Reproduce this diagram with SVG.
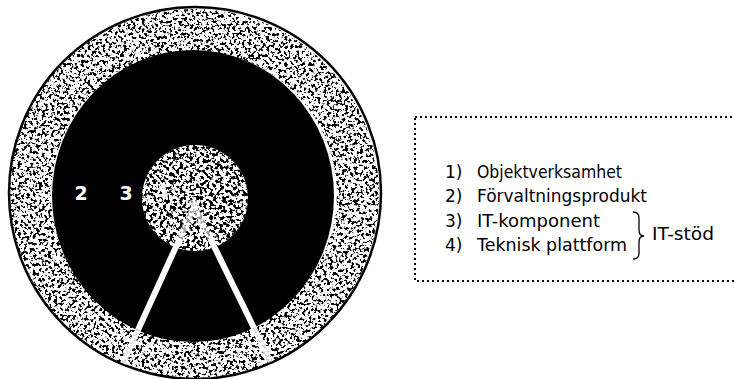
<svg xmlns="http://www.w3.org/2000/svg" width="734" height="379" viewBox="0 0 734 379">
  <style>
    .legend { font-family: "DejaVu Sans", "Liberation Sans", sans-serif; font-size: 17px; fill: #000; }
    .num { font-family: "DejaVu Sans", "Liberation Sans", sans-serif; font-size: 19px; font-weight: bold; fill: #fff; }
    .bar { stroke: #fff; stroke-width: 6; stroke-linecap: butt; fill: none; }
  </style>
  <defs>
    <filter id="speckRing" filterUnits="userSpaceOnUse" x="0" y="0" width="734" height="379">
      <feTurbulence type="fractalNoise" baseFrequency="0.33" numOctaves="3" seed="7" result="n"/>
      <feColorMatrix in="n" type="matrix" values="0 0 0 0 0  0 0 0 0 0  0 0 0 0 0  16 0 0 0 -8.5" result="m"/>
      <feComposite in="m" in2="SourceGraphic" operator="in"/>
    </filter>
    <filter id="speckCore" filterUnits="userSpaceOnUse" x="0" y="0" width="734" height="379">
      <feTurbulence type="fractalNoise" baseFrequency="0.3" numOctaves="3" seed="21" result="n"/>
      <feColorMatrix in="n" type="matrix" values="0 0 0 0 0  0 0 0 0 0  0 0 0 0 0  16 0 0 0 -8.0" result="m"/>
      <feComposite in="m" in2="SourceGraphic" operator="in"/>
    </filter>
    <clipPath id="outerClip"><circle cx="195" cy="193" r="185"/></clipPath>
  </defs>

  <rect width="734" height="379" fill="#fff"/>

  <g id="ring1">
    <circle cx="195" cy="193" r="186" fill="#fff" stroke="#000" stroke-width="2.5"/>
    <circle cx="194" cy="194" r="164" fill="none" stroke="#000" stroke-width="42" filter="url(#speckRing)"/>
  </g>

  <g id="ring2">
    <ellipse cx="193" cy="196" rx="141" ry="146" fill="#000"/>
    <text class="num" x="81" y="200" text-anchor="middle">2</text>
  </g>

  <g id="ring3">
    <text class="num" x="126" y="200" text-anchor="middle">3</text>
  </g>

  <g id="core">
    <circle cx="195" cy="198" r="53" fill="#fff"/>
    <circle cx="195" cy="198" r="53" fill="#000" filter="url(#speckCore)"/>
    <text class="num" x="162" y="199" text-anchor="middle" opacity="0.9">4</text>
  </g>

  <g id="connectors">
    <line class="bar" x1="197" y1="200" x2="180" y2="238" opacity="0.6"/>
    <line class="bar" x1="191" y1="200" x2="210" y2="238" opacity="0.6"/>
    <line class="bar" x1="180" y1="238" x2="138" y2="330"/>
    <line class="bar" x1="210" y1="238" x2="254" y2="328"/>
    <g clip-path="url(#outerClip)">
      <line class="bar" x1="138" y1="330" x2="116" y2="379" opacity="0.85"/>
      <line class="bar" x1="254" y1="328" x2="279" y2="379" opacity="0.85"/>
    </g>
  </g>

  <g id="legend">
    <rect x="415" y="117" width="340" height="164" fill="none" stroke="#000" stroke-width="2" stroke-dasharray="2 3"/>
    <text class="legend" x="445" y="178">1)</text>
    <text class="legend" x="477" y="178" textLength="145" lengthAdjust="spacingAndGlyphs">Objektverksamhet</text>
    <text class="legend" x="445" y="202">2)</text>
    <text class="legend" x="477" y="202" textLength="170" lengthAdjust="spacingAndGlyphs">Förvaltningsprodukt</text>
    <text class="legend" x="445" y="227">3)</text>
    <text class="legend" x="477" y="227" textLength="123" lengthAdjust="spacingAndGlyphs">IT-komponent</text>
    <text class="legend" x="445" y="251">4)</text>
    <text class="legend" x="477" y="251" textLength="150" lengthAdjust="spacingAndGlyphs">Teknisk plattform</text>
    <path d="M633,212 Q639,212 639,218 L639,230 Q639,236 644,236 Q639,236 639,242 L639,253 Q639,259 633,259" fill="none" stroke="#000" stroke-width="1.3"/>
    <text class="legend" x="652" y="240" textLength="62" lengthAdjust="spacingAndGlyphs">IT-stöd</text>
  </g>
</svg>
